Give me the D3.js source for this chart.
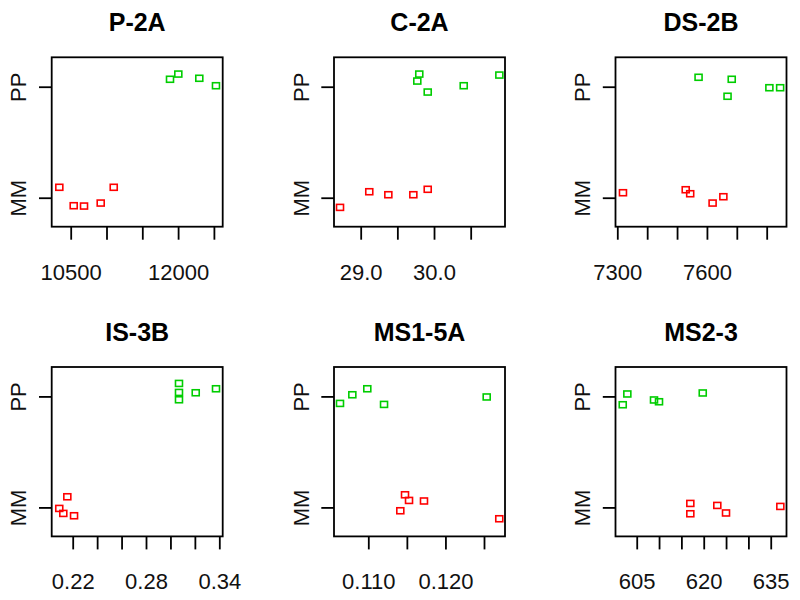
<!DOCTYPE html>
<html>
<head>
<meta charset="utf-8">
<script src="https://cdn.jsdelivr.net/npm/d3@7"></script>
<style>
  html, body { margin: 0; padding: 0; background: #fff; }
  svg { display: block; font-family: "Liberation Sans", Arial, Helvetica, sans-serif; }
</style>
</head>
<body>
<svg id="chart" width="800" height="600"></svg>
<script>
// ---- data ----
const titles = ["P-2A", "C-2A", "DS-2B", "IS-3B", "MS1-5A", "MS2-3"];
const categories = ["MM", "PP"];

// MM group (red): x values and jittered category position (1 = MM)
const mmX = [
  [10341, 10542, 10686, 10919, 11101],
  [28.718, 29.117, 29.377, 29.718, 29.914],
  [7319, 7529, 7544, 7619, 7655],
  [0.2090, 0.2156, 0.2123, 0.2211],
  [0.11476, 0.11528, 0.11415, 0.11722, 0.12698],
  [617.0, 617.0, 623.04, 624.99, 637.15]
];
const mmY = [
  [1.094, 0.928, 0.925, 0.952, 1.094],
  [0.913, 1.054, 1.027, 1.027, 1.076],
  [1.045, 1.072, 1.036, 0.952, 1.009],
  [0.991, 1.096, 0.946, 0.925],
  [1.114, 1.063, 0.970, 1.058, 0.898],
  [1.036, 0.943, 1.018, 0.950, 1.009]
];
// PP group (green): x values and jittered category position (2 = PP)
const ppX = [
  [11887, 12003, 12296, 12529],
  [29.772, 29.799, 29.914, 30.405, 30.891],
  [7572, 7683, 7669, 7809, 7845],
  [0.3070, 0.3070, 0.3070, 0.3207, 0.3373],
  [0.10633, 0.10793, 0.10987, 0.11204, 0.12535],
  [601.87, 602.90, 608.87, 609.99, 619.78]
];
const ppY = [
  [2.067, 2.114, 2.076, 2.009],
  [2.051, 2.114, 1.952, 2.009, 2.105],
  [2.085, 2.067, 1.914, 1.991, 1.991],
  [2.117, 2.036, 1.970, 2.033, 2.069],
  [1.937, 2.015, 2.069, 1.928, 1.995],
  [1.925, 2.022, 1.968, 1.952, 2.031]
];

// x axis ranges, tick positions and tick labels
const xDomains = [
  [10234.6, 12622.9],
  [28.636, 30.968],
  [7294, 7866.3],
  [0.20281, 0.34278],
  [0.105553, 0.127723],
  [600.25, 638.53]
];
const xTicks = [
  [10500, 11000, 11500, 12000, 12500],
  [29.0, 29.5, 30.0, 30.5],
  [7300, 7400, 7500, 7600, 7700, 7800],
  [0.22, 0.24, 0.26, 0.28, 0.30, 0.32, 0.34],
  [0.110, 0.115, 0.120, 0.125],
  [605, 610, 615, 620, 625, 630, 635]
];
const xTickLabels = [
  ["10500", "", "", "12000", ""],
  ["29.0", "", "30.0", ""],
  ["7300", "", "", "7600", "", ""],
  ["0.22", "", "", "0.28", "", "", "0.34"],
  ["0.110", "", "0.120", ""],
  ["605", "", "", "620", "", "", "635"]
];
const yDomain = [0.739, 2.265];
const yTicks = [1, 2];

// ---- layout ----
const boxLefts = [51.7, 334, 615.5];
const boxTops = [57.3, 367];
const boxW = 171, boxH = 169.4;
const red = "#FF0000", green = "#00CD00";

const svg = d3.select("#chart");

titles.forEach((title, i) => {
  const col = i % 3, row = Math.floor(i / 3);
  const x0 = boxLefts[col], y0 = boxTops[row];
  const g = svg.append("g").attr("transform", `translate(${x0},${y0})`);

  const x = d3.scaleLinear().domain(xDomains[i]).range([0, boxW]);
  const y = d3.scaleLinear().domain(yDomain).range([boxH, 0]);

  // title
  g.append("text")
    .attr("x", boxW / 2).attr("y", -26)
    .attr("text-anchor", "middle")
    .attr("font-size", 25).attr("font-weight", "bold")
    .attr("fill", "#000")
    .text(title);

  // x axis
  const xAxis = d3.axisBottom(x)
    .tickValues(xTicks[i])
    .tickSize(13)
    .tickFormat((d, k) => xTickLabels[i][k]);
  const xa = g.append("g").attr("transform", `translate(0,${boxH})`).call(xAxis);
  xa.select(".domain").remove();
  xa.selectAll(".tick line").attr("stroke", "#000").attr("stroke-width", 1.8);
  xa.selectAll(".tick text")
    .attr("y", 53).attr("dy", 0)
    .attr("font-size", 22).attr("fill", "#111")
    .attr("font-family", "Liberation Sans, Arial, sans-serif");

  // y axis
  const yAxis = d3.axisLeft(y)
    .tickValues(yTicks)
    .tickSize(12.7)
    .tickFormat(d => categories[d - 1]);
  const ya = g.append("g").call(yAxis);
  ya.select(".domain").remove();
  ya.selectAll(".tick line").attr("stroke", "#000").attr("stroke-width", 1.8);
  ya.selectAll(".tick text")
    .attr("x", 0).attr("dy", 0)
    .attr("transform", "translate(-25.5,0) rotate(-90)")
    .attr("text-anchor", "middle")
    .attr("font-size", 22).attr("fill", "#111")
    .attr("font-family", "Liberation Sans, Arial, sans-serif");

  // box
  g.append("rect")
    .attr("x", 0).attr("y", 0).attr("width", boxW).attr("height", boxH)
    .attr("fill", "none").attr("stroke", "#000").attr("stroke-width", 1.8);

  // points
  const drawPts = (xs, ys, color) => {
    g.append("g").selectAll("rect")
      .data(xs.map((v, k) => [v, ys[k]]))
      .join("rect")
      .attr("x", d => x(d[0]) - 3.5)
      .attr("y", d => y(d[1]) - 3)
      .attr("width", 7).attr("height", 6)
      .attr("fill", "none").attr("stroke", color).attr("stroke-width", 1.6);
  };
  drawPts(mmX[i], mmY[i], red);
  drawPts(ppX[i], ppY[i], green);
});
</script>
</body>
</html>
